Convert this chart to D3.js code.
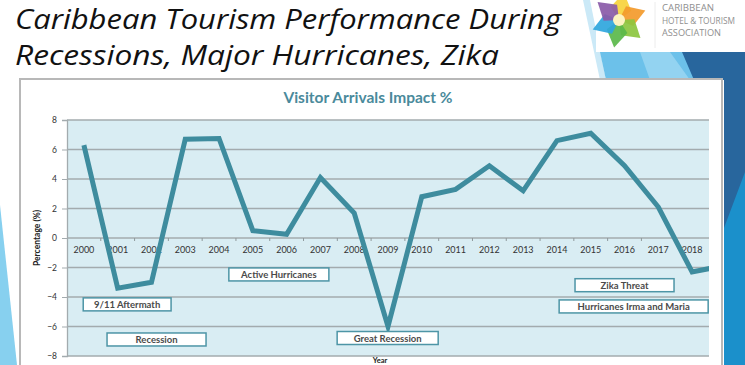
<!DOCTYPE html>
<html>
<head>
<meta charset="utf-8">
<script src="https://cdn.jsdelivr.net/npm/d3@7"></script>
<style>
  body { margin: 0; background: #fff; }
  svg { display: block; }
</style>
</head>
<body>
<svg id="chart" viewBox="0 0 745 365" width="745" height="365"></svg>
<script>
// data
const years = [2000, 2001, 2002, 2003, 2004, 2005, 2006, 2007, 2008, 2009,
  2010, 2011, 2012, 2013, 2014, 2015, 2016, 2017, 2018];
const impact = [6.3, -3.4, -3.0, 6.7, 6.75, 0.5, 0.25, 4.1, 1.7, -6.0,
  2.8, 3.3, 4.9, 3.2, 6.6, 7.1, 4.9, 2.1, -2.3];
// the line runs on past 2018 and is cut at the plot edge
const lineYears = years.concat([2019]);
const lineValues = impact.concat([-1.85]);
const yTicks = [-8, -6, -4, -2, 0, 2, 4, 6, 8];

// event labels: centre year, centre value, width in years
const eventLabels = ["9/11 Aftermath", "Recession", "Active Hurricanes", "Great Recession", "Zika Threat", "Hurricanes Irma and Maria"];
const eventYears = [2001.28, 2002.15, 2005.77, 2008.99, 2016.0, 2016.27];
const eventValues = [-4.5, -6.88, -2.47, -6.78, -3.2, -4.64];
const eventSpans = [2.6, 2.93, 2.96, 2.99, 2.93, 4.41];

const svg = d3.select("#chart");

// ---- slide decoration ----
const deco = svg.append("g");
deco.append("polygon").attr("points", "0,205 17,365 0,365").attr("fill", "#87d0ef");
deco.append("polygon").attr("points", "583,0 590,0 606,80 600,80").attr("fill", "#cbe9f7");
deco.append("polygon").attr("points", "600,52 690,52 700,80 606,80").attr("fill", "#6cc1ea");
deco.append("polygon").attr("points", "640,52 670,52 690,80 650,80").attr("fill", "#93d3f1");
deco.append("polygon").attr("points", "682,52 745,52 745,365 724,365 724,80 694,80").attr("fill", "#28669d");
deco.append("polygon").attr("points", "724,228 745,172 745,365 724,365").attr("fill", "#1b90cb");

// logo box
deco.append("rect").attr("x", 596).attr("y", 0).attr("width", 139).attr("height", 52).attr("fill", "#fff");
const star = deco.append("g").attr("transform", "translate(619,20)");
const petals = ["#f7d23c", "#f39a2b", "#8cc63f", "#5ab84a", "#2fa6dd", "#8a5aa8"];
petals.forEach((c, i) => {
  const a = (i * 60 - 80) * Math.PI / 180;
  const r = 28, w = 0.75;
  star.append("path")
    .attr("d", `M0,0 L${r * 0.55 * Math.cos(a - w)},${r * 0.55 * Math.sin(a - w)} L${r * Math.cos(a)},${r * Math.sin(a)} L${r * 0.55 * Math.cos(a + w)},${r * 0.55 * Math.sin(a + w)} Z`)
    .attr("fill", c).attr("opacity", 0.92);
});
star.append("circle").attr("r", 6).attr("fill", "#fdf3c0");
deco.append("line").attr("x1", 655).attr("y1", 2).attr("x2", 655).attr("y2", 48).attr("stroke", "#ececec");
["CARIBBEAN", "HOTEL & TOURISM", "ASSOCIATION"].forEach((t, i) => {
  deco.append("text").attr("x", 662).attr("y", 11 + i * 12.5).text(t)
    .attr("font-family", "Open Sans").attr("font-size", 9).attr("fill", "#8f8f8f")
    .attr("textLength", [52, 73, 59][i]).attr("lengthAdjust", "spacingAndGlyphs");
});

// slide title
const titleLines = ["Caribbean Tourism Performance During", "Recessions, Major Hurricanes, Zika"];
const titleWidths = [546, 484];
titleLines.forEach((t, i) => {
  svg.append("text").attr("x", 15).attr("y", 29 + i * 36).text(t)
    .attr("font-family", "Open Sans").attr("font-style", "italic")
    .attr("font-size", 27).attr("fill", "#111")
    .attr("textLength", titleWidths[i]).attr("lengthAdjust", "spacingAndGlyphs");
});

// ---- chart frame ----
svg.append("rect").attr("x", 20).attr("y", 79).attr("width", 702).attr("height", 300)
  .attr("fill", "#fff").attr("stroke", "#b8b8b8").attr("stroke-width", 2);

svg.append("text").attr("x", 368).attr("y", 103).attr("text-anchor", "middle")
  .text("Visitor Arrivals Impact %")
  .attr("font-family", "Lato").attr("font-weight", "bold").attr("font-size", 15.5)
  .attr("fill", "#4a8a9b");

const plot = { left: 67, right: 709, top: 120, bottom: 356 };
const x = d3.scaleLinear().domain([1999.5, 2018.5]).range([plot.left, plot.right]);
const y = d3.scaleLinear().domain([-8, 8]).range([plot.bottom, plot.top]);

svg.append("rect").attr("x", plot.left).attr("y", plot.top)
  .attr("width", plot.right - plot.left).attr("height", plot.bottom - plot.top)
  .attr("fill", "#d9edf3");

svg.append("clipPath").attr("id", "plotClip").append("rect")
  .attr("x", plot.left).attr("y", plot.top - 10)
  .attr("width", plot.right - plot.left).attr("height", plot.bottom - plot.top + 20);

// gridlines
svg.append("g").selectAll("line").data(yTicks).join("line")
  .attr("x1", plot.left).attr("x2", plot.right)
  .attr("y1", d => y(d)).attr("y2", d => y(d))
  .attr("stroke", "#a3abae").attr("stroke-width", 1.3);

// y axis
const yAxis = svg.append("g").attr("transform", `translate(${plot.left},0)`)
  .call(d3.axisLeft(y).tickValues(yTicks).tickSize(5).tickPadding(5).tickFormat(d3.format("d")));
yAxis.select(".domain").attr("stroke", "#a3abae").attr("stroke-width", 1.3);
yAxis.selectAll(".tick line").attr("stroke", "#a3abae");
yAxis.selectAll("text").attr("font-family", "Lato").attr("font-size", 8.5).attr("fill", "#333");

// x axis along zero line, ticks at category edges
const edges = d3.range(2000.5, 2018.5, 1);
svg.append("g").selectAll("line").data(edges).join("line")
  .attr("x1", d => x(d)).attr("x2", d => x(d))
  .attr("y1", y(0)).attr("y2", y(0) + 3)
  .attr("stroke", "#8f999c");
svg.append("g").selectAll("text").data(years).join("text")
  .attr("x", d => x(d)).attr("y", y(0) + 15)
  .attr("text-anchor", "middle").text(d => d)
  .attr("font-family", "Lato").attr("font-size", 9).attr("fill", "#333");

// data line
const points = lineYears.map((yr, i) => [yr, lineValues[i]]);
svg.append("path").datum(points)
  .attr("clip-path", "url(#plotClip)")
  .attr("d", d3.line().x(d => x(d[0])).y(d => y(d[1])))
  .attr("fill", "none").attr("stroke", "#3e8c9e").attr("stroke-width", 5)
  .attr("stroke-linejoin", "miter").attr("stroke-linecap", "butt");

// event label boxes
const ev = svg.append("g").selectAll("g").data(eventLabels).join("g")
  .attr("transform", (d, i) => `translate(${x(eventYears[i])},${y(eventValues[i])})`);
ev.append("rect")
  .attr("x", (d, i) => -(x(eventSpans[i]) - x(0)) / 2).attr("y", -6.5)
  .attr("width", (d, i) => x(eventSpans[i]) - x(0)).attr("height", 13)
  .attr("fill", "#fff").attr("stroke", "#4d95a6").attr("stroke-width", 1.5);
ev.append("text").attr("text-anchor", "middle").attr("y", 3.5).text(d => d)
  .attr("font-family", "Lato").attr("font-weight", "bold").attr("font-size", 9.5).attr("fill", "#4a4a4a");

// axis titles
svg.append("text").attr("transform", `translate(40,${y(0)}) rotate(-90)`)
  .attr("text-anchor", "middle").text("Percentage (%)")
  .attr("font-family", "Lato").attr("font-weight", "bold").attr("font-size", 8.5).attr("fill", "#222");
svg.append("text").attr("x", 380).attr("y", 363).attr("text-anchor", "middle").text("Year")
  .attr("font-family", "Lato").attr("font-weight", "bold").attr("font-size", 7.5).attr("fill", "#222");
</script>
</body>
</html>
